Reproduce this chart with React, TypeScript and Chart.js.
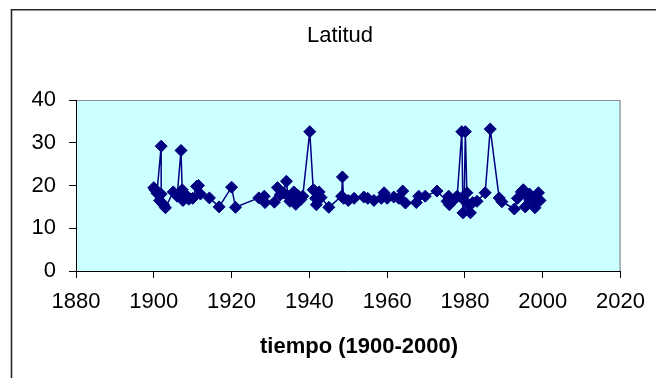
import React, { useEffect, useRef } from "react";
import { Chart, registerables } from "chart.js";

Chart.register(...registerables);

// Observation years and latitudes, in recording order
const years: number[] = [
  1900.0, 1900.3, 1900.8, 1901.9, 1901.9, 1901.5, 1902.0, 1902.5, 1903.0, 1905.0,
  1906.0, 1907.0, 1907.3, 1907.5, 1908.0, 1908.6, 1909.0, 1910.0, 1911.0, 1911.5,
  1912.0, 1914.3, 1916.8, 1920.0, 1921.0, 1927.0, 1928.4, 1928.6, 1931.0, 1931.8,
  1932.5, 1933.3, 1934.1, 1934.5, 1935.0, 1935.6, 1936.0, 1936.5, 1937.0, 1937.8,
  1938.3, 1940.1, 1941.0, 1941.3, 1941.6, 1941.8, 1942.5, 1943.0, 1945.0, 1948.3,
  1948.5, 1948.8, 1950.0, 1951.5, 1954.0, 1955.0, 1956.6, 1958.5, 1959.2, 1960.0,
  1961.7, 1963.0, 1964.0, 1964.7, 1967.5, 1968.1, 1969.8, 1972.8, 1975.4, 1975.8,
  1976.0, 1977.0, 1978.0, 1979.2, 1979.5, 1979.8, 1980.1, 1980.5, 1980.8, 1981.4,
  1982.0, 1983.1, 1985.2, 1986.5, 1988.8, 1989.5, 1992.7, 1993.5, 1994.5, 1995.0,
  1995.5, 1996.0, 1996.6, 1997.0, 1998.0, 1998.2, 1998.9, 1999.3,
];

const latitudes: number[] = [
  19.5, 19.0, 18.2, 29.2, 18.0, 16.5, 16.0, 15.5, 14.8, 18.5,
  17.5, 28.2, 19.0, 16.5, 17.2, 17.5, 16.8, 17.0, 19.8, 20.0,
  18.0, 17.1, 15.0, 19.6, 14.9, 17.1, 17.5, 16.0, 16.1, 19.5,
  17.8, 18.3, 21.0, 17.5, 16.3, 17.2, 18.5, 15.6, 17.7, 16.7,
  17.5, 32.6, 19.0, 18.8, 17.0, 15.5, 18.5, 17.2, 14.9, 17.5,
  22.0, 17.0, 16.5, 17.0, 17.3, 17.0, 16.5, 17.0, 18.3, 17.0,
  17.3, 17.0, 18.7, 15.9, 16.0, 17.5, 17.5, 18.7, 16.3, 17.5,
  15.5, 16.5, 17.5, 32.6, 13.6, 16.5, 32.6, 18.3, 15.5, 13.6,
  16.0, 16.3, 18.3, 33.2, 17.1, 16.2, 14.5, 17.0, 18.5, 19.0,
  15.0, 17.5, 18.0, 16.5, 14.8, 17.5, 18.3, 16.5,
];

const chartTitle = "Latitud";
const xAxisTitle = "tiempo (1900-2000)";
const xTicks = { min: 1880, max: 2020, step: 20 };
const yTicks = { min: 0, max: 40, step: 10 };

const FONT = "'Liberation Sans', Arial, sans-serif";
const NAVY = "#000080";

const frame = {
  id: "frame",
  beforeDraw(chart: Chart) {
    const { ctx, chartArea } = chart;
    ctx.save();
    ctx.fillStyle = "#ffffff";
    ctx.fillRect(0, 0, chart.width, chart.height);
    // outer chart border (continues past the canvas on the right and bottom)
    ctx.strokeStyle = "#262626";
    ctx.lineWidth = 1.6;
    ctx.beginPath();
    ctx.moveTo(11.5, chart.height + 5);
    ctx.lineTo(11.5, 9.8);
    ctx.lineTo(chart.width + 5, 9.8);
    ctx.stroke();
    // plot area fill
    ctx.fillStyle = "#CCFFFF";
    ctx.fillRect(chartArea.left, chartArea.top, chartArea.right - chartArea.left, chartArea.bottom - chartArea.top);
    // plot area border on the top and right
    ctx.strokeStyle = "#8c8c8c";
    ctx.lineWidth = 1.2;
    ctx.beginPath();
    ctx.moveTo(chartArea.left, chartArea.top + 0.5);
    ctx.lineTo(chartArea.right - 0.5, chartArea.top + 0.5);
    ctx.lineTo(chartArea.right - 0.5, chartArea.bottom);
    ctx.stroke();
    ctx.restore();
  },
  afterDraw(chart: Chart) {
    const { ctx } = chart;
    ctx.save();
    ctx.fillStyle = "#000000";
    ctx.textAlign = "center";
    ctx.textBaseline = "middle";
    ctx.font = `22px ${FONT}`;
    ctx.fillText(chartTitle, 340, 36);
    ctx.font = `bold 22px ${FONT}`;
    ctx.fillText(xAxisTitle, 359, 347);
    ctx.restore();
  },
};

export default function App() {
  const canvasRef = useRef<HTMLCanvasElement | null>(null);

  useEffect(() => {
    const canvas = canvasRef.current;
    if (!canvas) return;
    const points = years.map((x, i) => ({ x, y: latitudes[i] }));
    const chart = new Chart(canvas, {
      type: "scatter",
      data: {
        datasets: [
          {
            label: chartTitle,
            data: points,
            showLine: true,
            borderColor: NAVY,
            borderWidth: 1.5,
            backgroundColor: NAVY,
            pointStyle: "rectRot",
            pointRadius: 6,
            pointBorderWidth: 1,
            pointBorderColor: NAVY,
            pointBackgroundColor: NAVY,
          },
        ],
      },
      options: {
        animation: false,
        responsive: false,
        devicePixelRatio: 1,
        layout: { padding: { top: 100, left: 0, right: 34, bottom: 0 } },
        plugins: {
          legend: { display: false },
          title: { display: false },
          tooltip: { enabled: false },
        },
        scales: {
          x: {
            type: "linear",
            min: xTicks.min,
            max: xTicks.max,
            afterFit: (scale: any) => {
              scale.height = 107;
            },
            ticks: {
              stepSize: xTicks.step,
              color: "#000",
              padding: 11,
              font: { family: FONT, size: 22, lineHeight: 1.2 },
              callback: (v: any) => String(v),
              maxRotation: 0,
            },
            grid: {
              drawOnChartArea: false,
              drawTicks: true,
              tickLength: 7,
              color: "#000",
              lineWidth: 1,
            },
            border: { display: true, color: "#000", width: 1 },
          },
          y: {
            type: "linear",
            min: yTicks.min,
            max: yTicks.max,
            afterFit: (scale: any) => {
              scale.width = 76;
            },
            ticks: {
              stepSize: yTicks.step,
              color: "#000",
              padding: 13,
              font: { family: FONT, size: 22 },
            },
            grid: {
              drawOnChartArea: false,
              drawTicks: true,
              tickLength: 7,
              color: "#000",
              lineWidth: 1,
            },
            border: { display: true, color: "#000", width: 1 },
          },
        },
      },
      plugins: [frame],
    });
    return () => chart.destroy();
  }, []);

  return (
    <div style={{ position: "absolute", left: 0, top: 0, width: 656, height: 378, overflow: "hidden", background: "#fff" }}>
      <canvas ref={canvasRef} width={656} height={378} style={{ display: "block", width: 656, height: 378 }} />
    </div>
  );
}
